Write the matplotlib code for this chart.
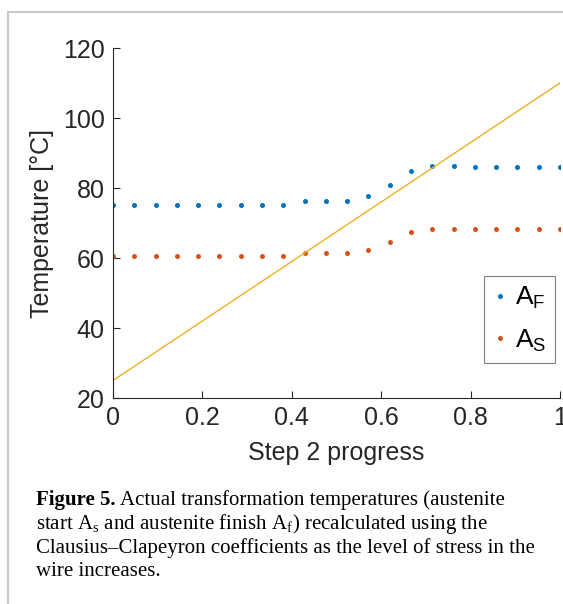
import matplotlib
matplotlib.use("Agg")
import matplotlib.pyplot as plt
from matplotlib.lines import Line2D

# data
progress = [i / 21 for i in range(22)]
a_f = [75.2, 75.2, 75.2, 75.2, 75.2, 75.2, 75.2, 75.2, 75.2, 76.4, 76.4,
       76.4, 77.6, 80.9, 85.0, 86.2, 86.2, 86.1, 86.1, 86.1, 86.0, 86.0]
a_s = [60.6, 60.6, 60.6, 60.6, 60.6, 60.6, 60.6, 60.6, 60.6, 61.5, 61.5,
       61.5, 62.3, 64.7, 67.5, 68.4, 68.4, 68.3, 68.3, 68.3, 68.3, 68.3]
line_x = [0, 1]
line_y = [25, 110]

blue = "#0072BD"
orange = "#D95319"
yellow = "#EDB120"

plt.rcParams["font.family"] = ["Liberation Sans", "DejaVu Sans"]
plt.rcParams["mathtext.fontset"] = "custom"
plt.rcParams["mathtext.rm"] = "Liberation Serif"
plt.rcParams["mathtext.sf"] = "Liberation Sans"

fig = plt.figure(figsize=(5.63, 6.04), dpi=100)
ax = fig.add_axes([113 / 563, 206 / 604, 447 / 563, 350 / 604])

ax.plot(progress, a_f, linestyle="none", marker="o", ms=3.6, color=blue,
        markeredgewidth=0)
ax.plot(progress, a_s, linestyle="none", marker="o", ms=3.6, color=orange,
        markeredgewidth=0)
ax.plot(line_x, line_y, color=yellow, lw=1.0)

ax.set_xlim(0, 1)
ax.set_ylim(20, 120)
ax.set_xticks([0, 0.2, 0.4, 0.6, 0.8, 1])
ax.set_xticklabels(["0", "0.2", "0.4", "0.6", "0.8", "1"])
ax.set_yticks([20, 40, 60, 80, 100, 120])
ax.tick_params(direction="in", length=5, width=0.8, labelsize=18,
               colors="#262626", pad=6)
for s in ["top", "right"]:
    ax.spines[s].set_visible(False)
for s in ["left", "bottom"]:
    ax.spines[s].set_color("#262626")
    ax.spines[s].set_linewidth(0.8)

ax.set_xlabel("Step 2 progress", fontsize=18, color="#262626", labelpad=8)
ax.set_ylabel("Temperature [°C]", fontsize=18, color="#262626", labelpad=6)

handles = [Line2D([], [], ls="none", marker="o", ms=3.6, color=blue, markeredgewidth=0),
           Line2D([], [], ls="none", marker="o", ms=3.6, color=orange, markeredgewidth=0)]
leg = ax.legend(handles, [r"A$_\mathsf{F}$", r"A$_\mathsf{S}$"],
                loc="lower right", bbox_to_anchor=(0.989, 0.1), fontsize=19,
                fancybox=False, framealpha=1, edgecolor="#808080",
                handlelength=0.5, handletextpad=0.3, borderpad=0.35,
                borderaxespad=0, labelspacing=0.6)
leg.get_frame().set_linewidth(0.8)

# page border lines
fig.add_artist(Line2D([8 / 563, 8 / 563], [0, 592 / 604], color="#c8c8c8", lw=1.5))
fig.add_artist(Line2D([8 / 563, 1], [592 / 604, 592 / 604], color="#c8c8c8", lw=1.5))

# caption
fs = 15
cap = ["start A$_\\mathrm{s}$ and austenite finish A$_\\mathrm{f}$) recalculated using the",
       "Clausius–Clapeyron coefficients as the level of stress in the",
       "wire increases."]
fx = 36 / 563
t = fig.text(fx, 1 - 500 / 604, "Figure 5.", fontsize=fs, family="Liberation Serif",
             weight="bold", va="center")
fig.canvas.draw()
bb = t.get_window_extent()
fig.text(bb.x1 / fig.bbox.width + 4 / 563, 1 - 500 / 604,
         "Actual transformation temperatures (austenite", fontsize=fs,
         family="Liberation Serif", va="center")
for i, line in enumerate(cap):
    fig.text(fx, 1 - (524 + 24 * i) / 604, line, fontsize=fs,
             family="Liberation Serif", va="center")

fig.savefig("out.png", dpi=100)
